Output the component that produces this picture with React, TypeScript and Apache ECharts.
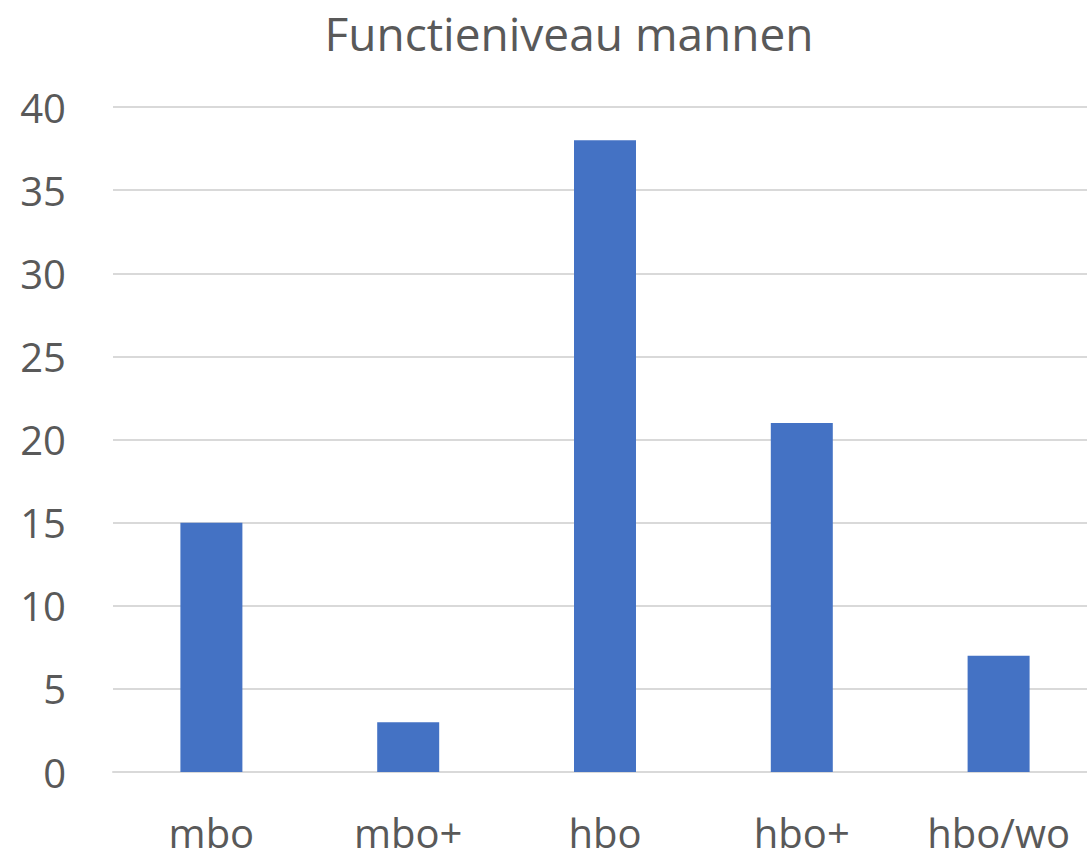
import React, { useEffect, useRef } from "react";
import * as echarts from "echarts";

const categories = ["mbo", "mbo+", "hbo", "hbo+", "hbo/wo"];
const values = [15, 3, 38, 21, 7];
const titleText = "Functieniveau mannen";

export default function App() {
  const ref = useRef<HTMLDivElement>(null);
  useEffect(() => {
    document.body.style.margin = "0";
    const chart = echarts.init(ref.current!, null, { renderer: "svg" });
    chart.setOption({
      animation: false,
      backgroundColor: "#ffffff",
      title: {
        text: titleText,
        left: 564,
        top: 5,
        textAlign: "center",
        textStyle: {
          fontFamily: "Open Sans",
          fontSize: 46,
          lineHeight: 46,
          fontWeight: "normal",
          color: "#595959",
        },
      },
      grid: { left: 113, right: 0, top: 107, bottom: 87, containLabel: false },
      xAxis: {
        type: "category",
        data: categories,
        axisLine: { show: true, lineStyle: { color: "#d9d9d9", width: 2 } },
        axisTick: { show: false },
        axisLabel: {
          fontFamily: "Open Sans",
          fontSize: 40,
          color: "#595959",
          margin: 40,
          interval: 0,
        },
      },
      yAxis: {
        type: "value",
        min: 0,
        max: 40,
        interval: 5,
        axisLine: { show: false },
        axisTick: { show: false },
        splitLine: { lineStyle: { color: "#d9d9d9", width: 2 } },
        axisLabel: {
          fontFamily: "Open Sans",
          fontSize: 40,
          color: "#595959",
          margin: 47,
        },
      },
      series: [
        {
          type: "bar",
          data: values,
          barWidth: "31.5%",
          itemStyle: { color: "#4472C4" },
        },
      ],
    });
    return () => chart.dispose();
  }, []);
  return (
    <div style={{ width: 1087, height: 859, overflow: "hidden" }}>
      <div ref={ref} style={{ width: 1097, height: 859 }} />
    </div>
  );
}
